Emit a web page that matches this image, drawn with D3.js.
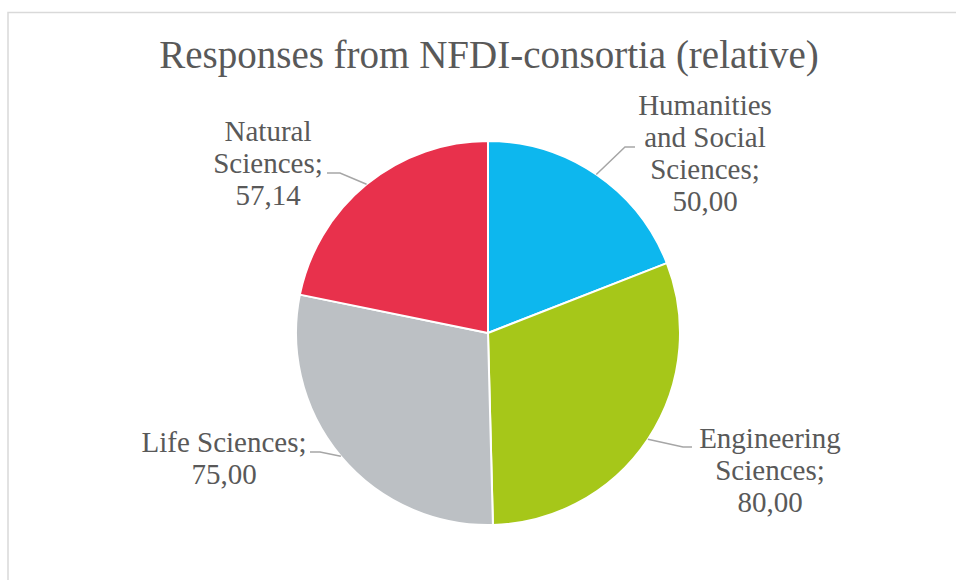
<!DOCTYPE html>
<html>
<head>
<meta charset="utf-8">
<script src="https://cdn.jsdelivr.net/npm/d3@7"></script>
<style>
  html, body { margin: 0; padding: 0; background: #fff; }
  svg { display: block; }
  text { font-family: "Liberation Serif", "Times New Roman", serif; fill: #595959; }
</style>
</head>
<body>
<svg id="chart" width="956" height="580"></svg>
<script>
// ---- Data ----
const title = "Responses from NFDI-consortia (relative)";
const categories = ["Humanities and Social Sciences", "Engineering Sciences", "Life Sciences", "Natural Sciences"];
const values = [50.00, 80.00, 75.00, 57.14];
const valueLabels = ["50,00", "80,00", "75,00", "57,14"];
const labelLines = [
  ["Humanities", "and Social", "Sciences;"],
  ["Engineering", "Sciences;"],
  ["Life Sciences;"],
  ["Natural", "Sciences;"]
];
const colors = ["#0DB7EE", "#A6C719", "#BCC0C4", "#E8314C"];

// ---- Layout (label placement) ----
const labelPos = [
  { x: 705, y: 115, elbow: [625, 147], end: [635, 147] },
  { x: 770, y: 448, elbow: [683, 447], end: [692, 447] },
  { x: 224, y: 452, elbow: [320, 452], end: [310, 452] },
  { x: 268, y: 141, elbow: [340, 173], end: [327, 173] }
];

const svg = d3.select("#chart");
const W = 956, H = 580;
const cx = 488, cy = 333, R = 192;
const lineH = 32;

// chart border
svg.append("rect")
  .attr("x", 8).attr("y", 12.5)
  .attr("width", W + 20).attr("height", H + 20)
  .attr("fill", "none").attr("stroke", "#D9D9D9").attr("stroke-width", 1.5);

// title
svg.append("text")
  .attr("x", 489).attr("y", 68)
  .attr("text-anchor", "middle")
  .style("font-size", "39px")
  .text(title);

const data = categories.map((c, i) => ({ cat: c, value: values[i], i }));
const pie = d3.pie().value(d => d.value).sort(null);
const arcs = pie(data);
const arc = d3.arc().innerRadius(0).outerRadius(R);

const g = svg.append("g").attr("transform", `translate(${cx},${cy})`);
g.selectAll("path.slice")
  .data(arcs)
  .join("path")
  .attr("class", "slice")
  .attr("d", arc)
  .attr("fill", d => colors[d.data.i])
  .attr("stroke", "#fff")
  .attr("stroke-width", 2)
  .attr("stroke-linejoin", "round");

// leader lines
arcs.forEach(a => {
  const i = a.data.i;
  const mid = (a.startAngle + a.endAngle) / 2;
  const sx = cx + R * Math.sin(mid);
  const sy = cy - R * Math.cos(mid);
  const p = labelPos[i];
  svg.append("polyline")
    .attr("points", [[sx, sy], p.elbow, p.end].map(q => q.join(",")).join(" "))
    .attr("fill", "none")
    .attr("stroke", "#A6A6A6")
    .attr("stroke-width", 1.5);
});

// labels
arcs.forEach(a => {
  const i = a.data.i;
  const p = labelPos[i];
  const lines = labelLines[i].concat([valueLabels[i]]);
  const t = svg.append("text")
    .attr("text-anchor", "middle")
    .style("font-size", "29px");
  lines.forEach((ln, k) => {
    t.append("tspan").attr("x", p.x).attr("y", p.y + k * lineH).text(ln);
  });
});
</script>
</body>
</html>
